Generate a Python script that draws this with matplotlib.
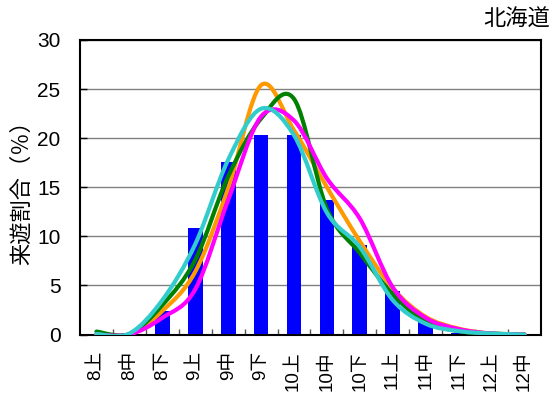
import matplotlib
matplotlib.use("Agg")
import matplotlib.pyplot as plt
from matplotlib.path import Path
from matplotlib.patches import PathPatch
import numpy as np

plt.rcParams['font.family'] = ['Liberation Sans', 'Noto Sans CJK JP']

# 旬ごとのカテゴリ
labels = ['8上', '8中', '8下', '9上', '9中', '9下', '10上', '10中', '10下',
          '11上', '11中', '11下', '12上', '12中']
# 棒グラフ（今年）
bars = [0.0, 0.2, 2.4, 10.9, 17.6, 20.3, 20.3, 13.7, 9.1, 4.4, 1.5, 0.2, 0.1, 0.0]
# 過去の曲線
orange = [0.0, 0.0, 2.4, 6.4, 14.9, 25.4, 20.8, 15.0, 9.5, 4.7, 1.8, 0.6, 0.1, 0.0]
green = [0.3, 0.05, 3.0, 7.6, 16.1, 22.0, 24.0, 12.8, 8.3, 4.1, 1.3, 0.35, 0.1, 0.0]
magenta = [0.0, 0.0, 1.7, 4.6, 13.7, 22.2, 21.8, 15.9, 11.8, 4.8, 1.7, 0.55, 0.1, 0.0]
cyan = [0.05, 0.1, 3.5, 9.2, 17.8, 23.0, 20.3, 12.4, 8.9, 3.5, 1.1, 0.35, 0.1, 0.0]


def smooth_path(xs, ys):
    # Excel風の平滑線（ベジェ曲線）
    pts = np.column_stack([xs, ys]).astype(float)
    n = len(pts)
    verts = [pts[0]]
    codes = [Path.MOVETO]
    for i in range(n - 1):
        p0 = pts[i - 1] if i > 0 else pts[i]
        p1 = pts[i]
        p2 = pts[i + 1]
        p3 = pts[i + 2] if i + 2 < n else pts[i + 1]
        c1 = p1 + (p2 - p0) / 6.0
        c2 = p2 - (p3 - p1) / 6.0
        verts += [c1, c2, p2]
        codes += [Path.CURVE4] * 3
    return Path(verts, codes)


fig = plt.figure(figsize=(5.52, 3.98), dpi=100)
ax = fig.add_axes([0.1449, 0.1595, 0.8351, 0.74])

x = np.arange(len(labels))
ax.bar(x, bars, width=0.45, color='#0000FF', zorder=2)

for ys, col in [(orange, '#FF9900'), (green, '#008000'), (magenta, '#FF00FF'), (cyan, '#33CCCC')]:
    ax.add_patch(PathPatch(smooth_path(x, ys), facecolor='none', edgecolor=col,
                           lw=3, capstyle='round', joinstyle='round', zorder=3))

ax.set_xlim(-0.5, len(labels) - 0.5)
ax.set_ylim(0, 30)
ax.set_yticks(range(0, 31, 5))
ax.yaxis.grid(True, color='#808080', lw=1, zorder=0)
ax.set_axisbelow(True)

ax.set_xticks(x)
ax.set_xticklabels(labels, rotation=90, fontsize=13.5)
ax.set_xticks(np.arange(0.5, len(labels) - 1, 1.0), minor=True)
ax.tick_params(axis='x', which='major', length=0, pad=12)
ax.tick_params(axis='x', which='minor', direction='in', length=4, width=1, colors='#555555')
ax.tick_params(axis='y', direction='in', length=5, width=1, labelsize=15, pad=14)

for s in ax.spines.values():
    s.set_linewidth(1.5)
    s.set_color('black')

ax.set_ylabel('来遊割合（％）', fontsize=16, labelpad=3)
fig.text(0.997, 0.975, '北海道', ha='right', va='top', fontsize=16)

fig.savefig('out.png', dpi=100)
